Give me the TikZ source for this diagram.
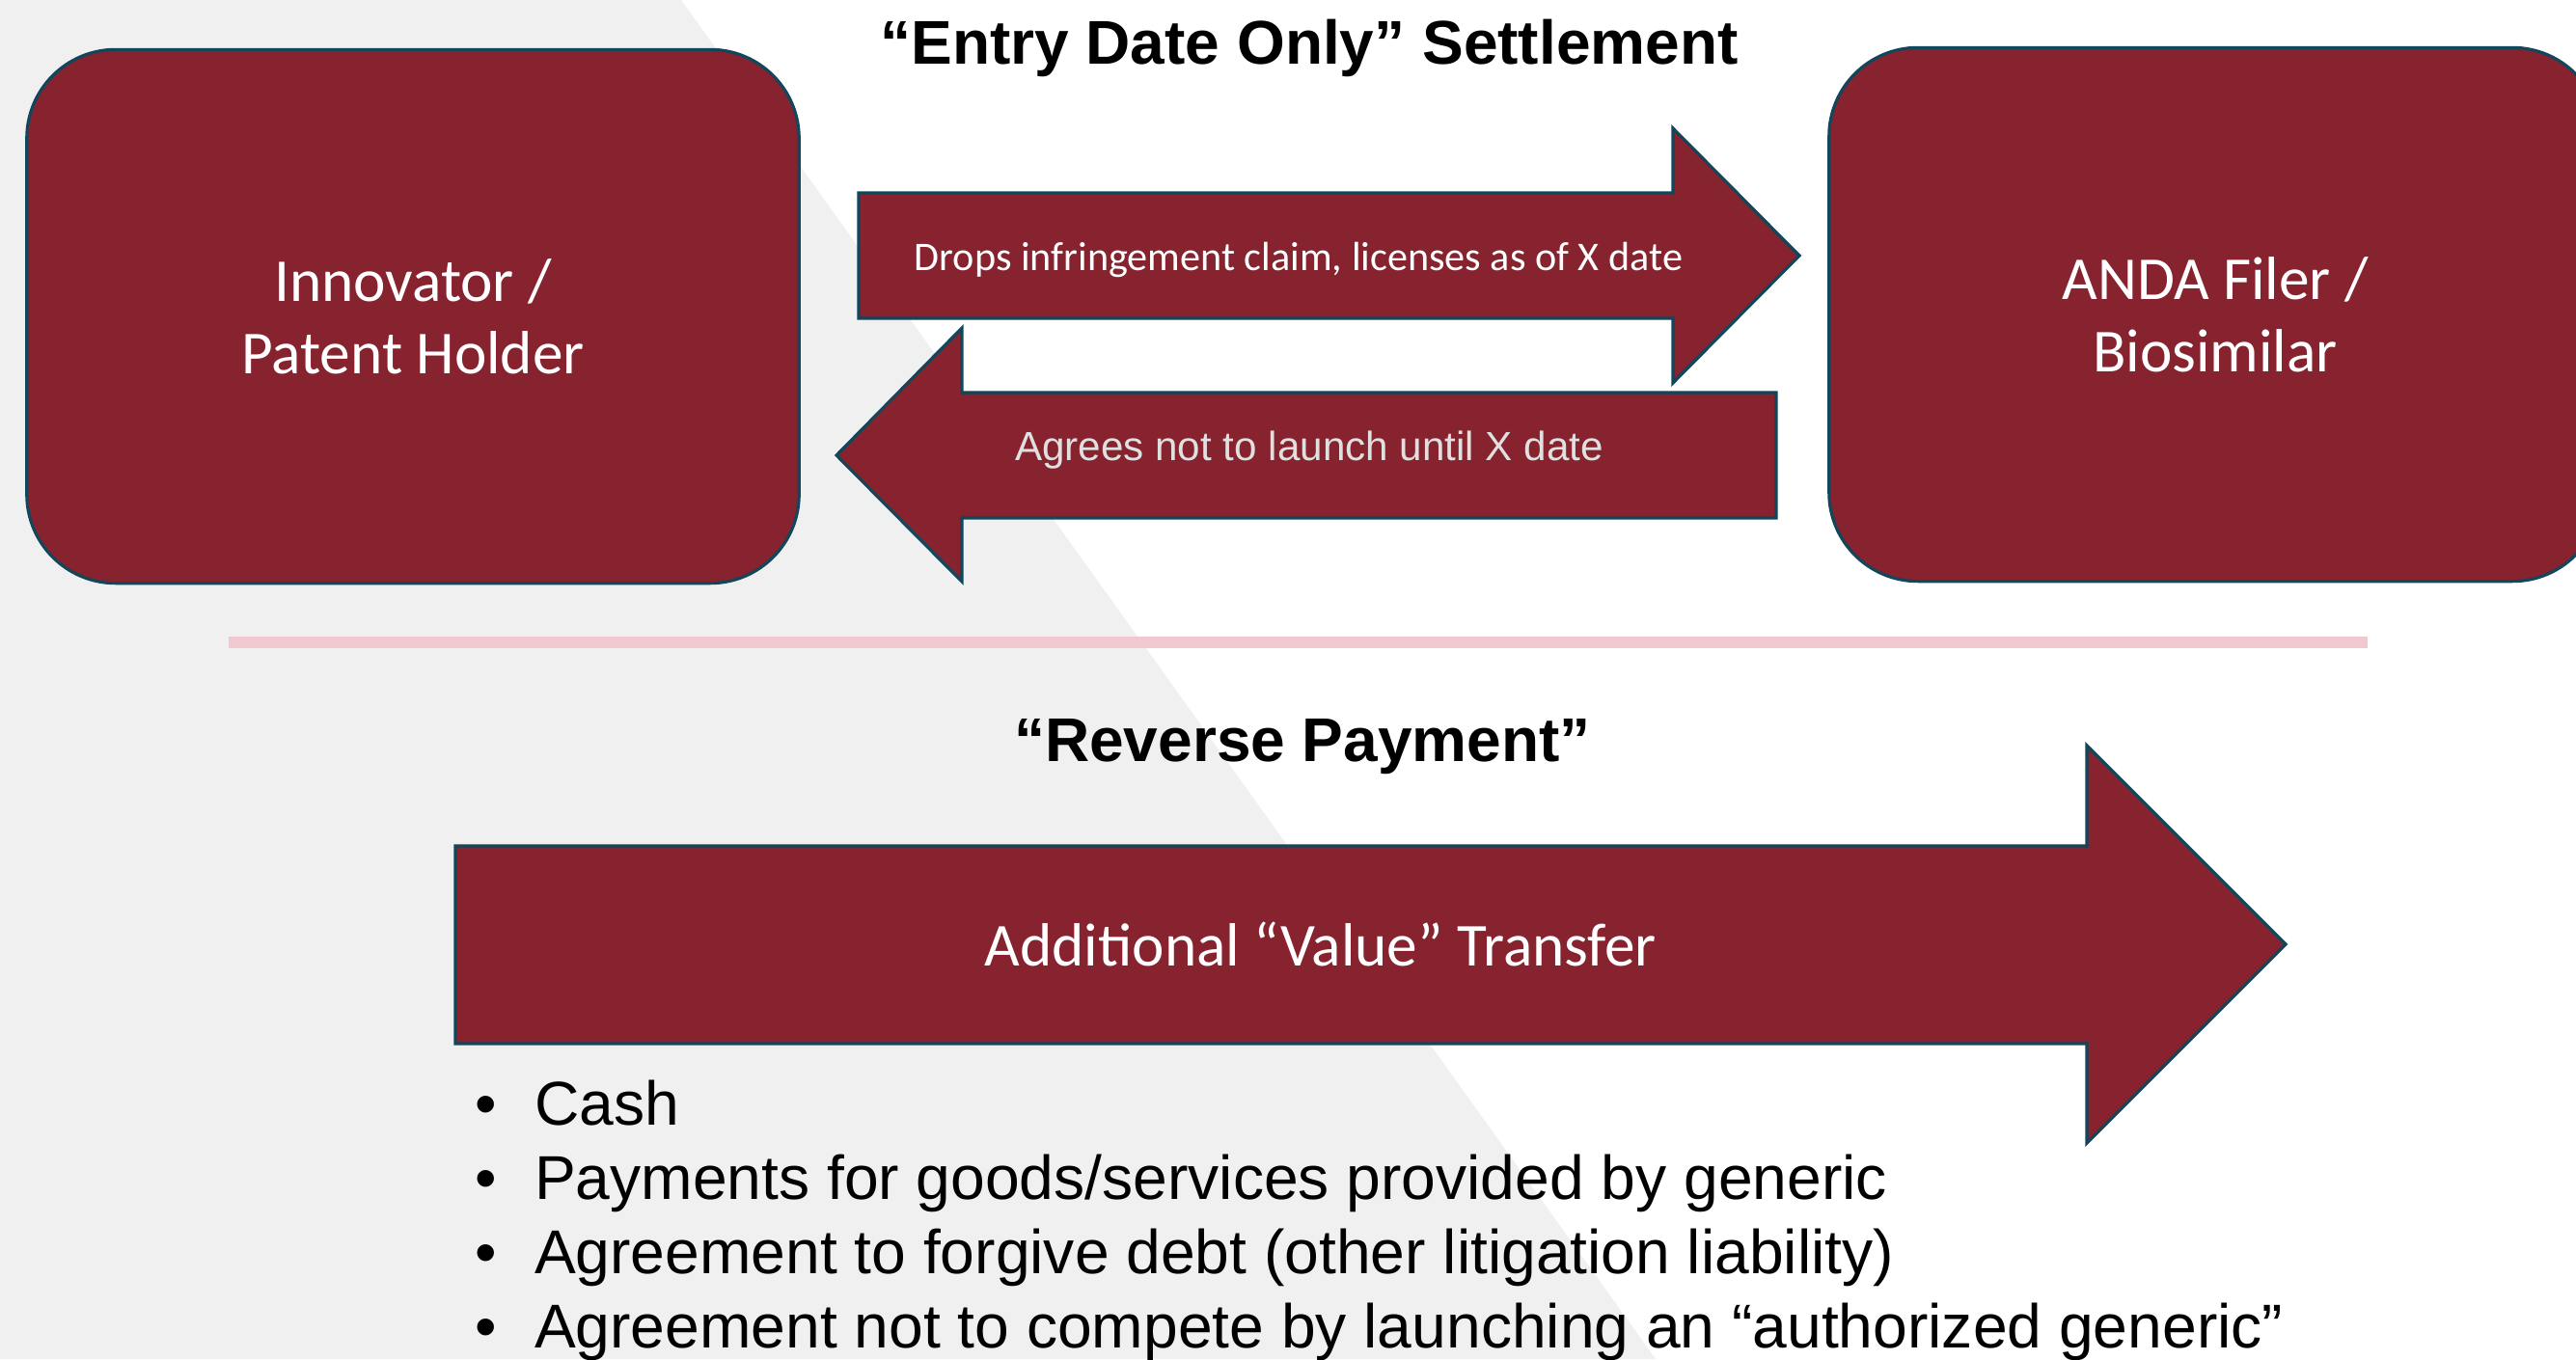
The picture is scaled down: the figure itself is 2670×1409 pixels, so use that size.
\documentclass[tikz,border=0pt]{standalone}
\usepackage{fontspec}
\setmainfont{Liberation Sans}
\newfontfamily\calibri{Carlito}
\usetikzlibrary{positioning}

\definecolor{boxred}{HTML}{86232F}
\definecolor{edgeteal}{HTML}{12465A}
\definecolor{bggray}{HTML}{F0F0F0}
\definecolor{rulepink}{HTML}{F0C8D0}

\begin{document}
\begin{tikzpicture}[x=0.01cm,y=-0.01cm,semithick]
    \tikzstyle{every node}=[inner sep=0pt]
    \tikzstyle{party}=[draw=edgeteal,line width=0.9pt,fill=boxred,rounded corners=0.92cm,
        minimum width=8.0cm,minimum height=5.53cm,align=center,text=white,
        font=\calibri\fontsize{18}{21.3}\selectfont]
    \tikzstyle{blockarrow}=[draw=edgeteal,line width=0.9pt,fill=boxred,line join=miter]
    \tikzstyle{heading}=[anchor=base,font=\bfseries\fontsize{18.2}{22}\selectfont]
    \tikzstyle{bullettext}=[anchor=base west,font=\fontsize{18.25}{22}\selectfont]
    \useasboundingbox (0,0) rectangle (2670,1409);
    \clip (0,0) rectangle (2670,1409);
    \fill[white] (0,0) rectangle (2670,1409);
    \fill[bggray] (0,0) -- (706,0) -- (1716,1409) -- (0,1409) -- cycle;

    % the two parties
    \node[party] (inno) at (428,328) {Innovator /\\Patent Holder};
    \node[party] (anda) at (2296,326) {ANDA Filer /\\Biosimilar};

    % entry date only settlement
    \node[heading] (entry) at (1357,66) {“Entry Date Only” Settlement};
    \draw[blockarrow] (890,200) -- (1734,200) -- (1734,133) -- (1865,265)
        -- (1734,397) -- (1734,330) -- (890,330) -- cycle;
    \node[anchor=base,text=white,font=\calibri\fontsize{12}{14}\selectfont] (drops)
        at (1346,280) {Drops infringement claim, licenses as of X date};
    \draw[blockarrow] (1841,407) -- (997,407) -- (997,340) -- (867,472)
        -- (997,603) -- (997,537) -- (1841,537) -- cycle;
    \node[anchor=base,text=white!88!black,font=\fontsize{12}{14}\selectfont] (agrees)
        at (1357,477) {Agrees not to launch until X date};

    \draw[rulepink,line width=0.12cm] (237,666) -- (2454,666);

    % reverse payment
    \node[heading] (reverse) at (1350,789) {“Reverse Payment”};
    \draw[blockarrow] (472,877) -- (2163,877) -- (2163,773) -- (2369,979)
        -- (2163,1185) -- (2163,1082) -- (472,1082) -- cycle;
    \node[anchor=base,text=white,font=\calibri\fontsize{18}{22}\selectfont] (value)
        at (1369,1001) {Additional “Value” Transfer};
    \foreach \txt [count=\k] in {Cash,{Payments for goods/services provided by generic},
        {Agreement to forgive debt (other litigation liability)},
        {Agreement not to compete by launching an “authorized generic”}}
    {
        \node[bullettext] (dot\k) at (491,{1089+77*\k}) {•};
        \node[bullettext] (item\k) at (553,{1089+77*\k}) {\txt};
    }
\end{tikzpicture}
\end{document}
